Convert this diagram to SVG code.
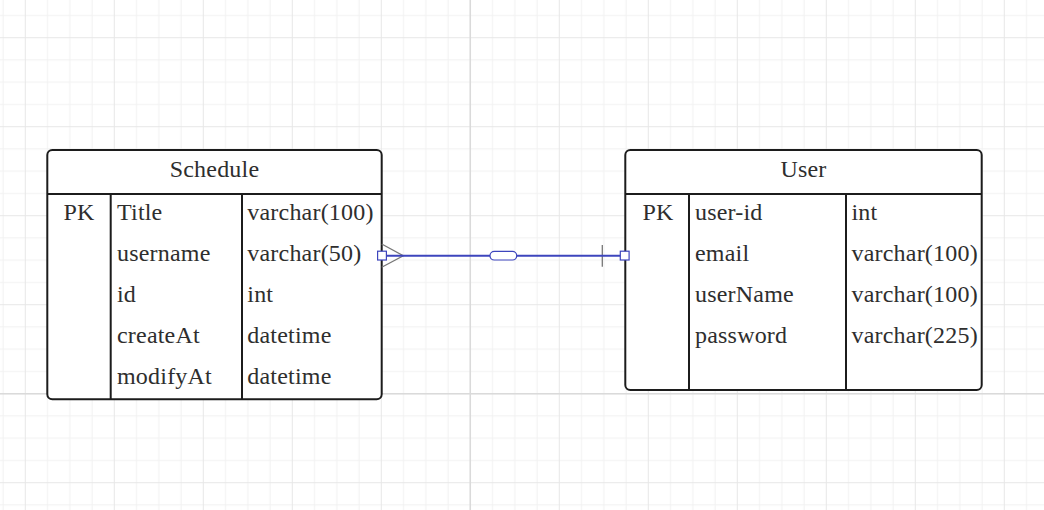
<svg xmlns="http://www.w3.org/2000/svg" width="1044" height="510" viewBox="0 0 1044 510">
<defs>
<pattern id="grid" patternUnits="userSpaceOnUse" x="24.8" y="37.2" width="89" height="89">
<path d="M22.75 0V89M45 0V89M67.25 0V89M0 22.75H89M0 45H89M0 67.25H89" stroke="#f1f1f1" stroke-width="1" fill="none"/>
<path d="M0.5 0V89M0 0.5H89" stroke="#e7e7e7" stroke-width="1" fill="none"/>
</pattern>
</defs>
<style>
.tbl{fill:#fff;stroke:#1c1c1c;stroke-width:2}
.ln{stroke:#1c1c1c;stroke-width:2;fill:none}
text{font-family:"Liberation Serif","Times New Roman",serif;font-size:24px;letter-spacing:0.2px;fill:#2e2e2e}
.c{text-anchor:middle}
.conn{stroke:#3d45bd;stroke-width:2;fill:none}
.h{fill:#fff;stroke:#3d45bd;stroke-width:1.2}
.g{stroke:#777;stroke-width:1.3;fill:none}
</style>
<rect width="1044" height="510" fill="#fff"/>
<rect width="1044" height="510" fill="url(#grid)"/>
<path d="M470.3 0V510M0 393.7H1044" stroke="#dadada" stroke-width="1.5" fill="none"/>

<g id="schedule">
<rect class="tbl" x="47.3" y="150" width="334.4" height="249.3" rx="5"/>
<path class="ln" d="M47.3 194H381.7M110.7 194V399.3M242 194V399.3"/>
<text class="c" x="214.5" y="177">Schedule</text>
<text class="c" x="79" y="220">PK</text>
<text x="117" y="220">Title</text>
<text x="247.3" y="220">varchar(100)</text>
<text x="117" y="261">username</text>
<text x="247.3" y="261">varchar(50)</text>
<text x="117" y="302">id</text>
<text x="247.3" y="302">int</text>
<text x="117" y="343">createAt</text>
<text x="247.3" y="343">datetime</text>
<text x="117" y="384">modifyAt</text>
<text x="247.3" y="384">datetime</text>
</g>

<g id="user">
<rect class="tbl" x="625.3" y="150" width="356.4" height="240" rx="5"/>
<path class="ln" d="M625.3 194H981.7M689 194V390M846 194V390"/>
<text class="c" x="803.5" y="177">User</text>
<text class="c" x="658" y="220">PK</text>
<text x="695" y="220">user-id</text>
<text x="851.5" y="220">int</text>
<text x="695" y="261">email</text>
<text x="851.5" y="261">varchar(100)</text>
<text x="695" y="302">userName</text>
<text x="851.5" y="302">varchar(100)</text>
<text x="695" y="343">password</text>
<text x="851.5" y="343">varchar(225)</text>
</g>

<g id="connectors">
<path class="g" d="M381.7 244L403.3 255.7L381.7 267.3"/>
<path class="g" d="M602.3 245V266.7"/>
<path class="conn" d="M382 255.7H624.7"/>
<rect class="h" x="490" y="251.4" width="26.7" height="8.6" rx="4.3"/>
<rect class="h" x="377.6" y="251.2" width="8.8" height="8.8"/>
<rect class="h" x="620.3" y="251.2" width="8.8" height="8.8"/>
</g>
</svg>
